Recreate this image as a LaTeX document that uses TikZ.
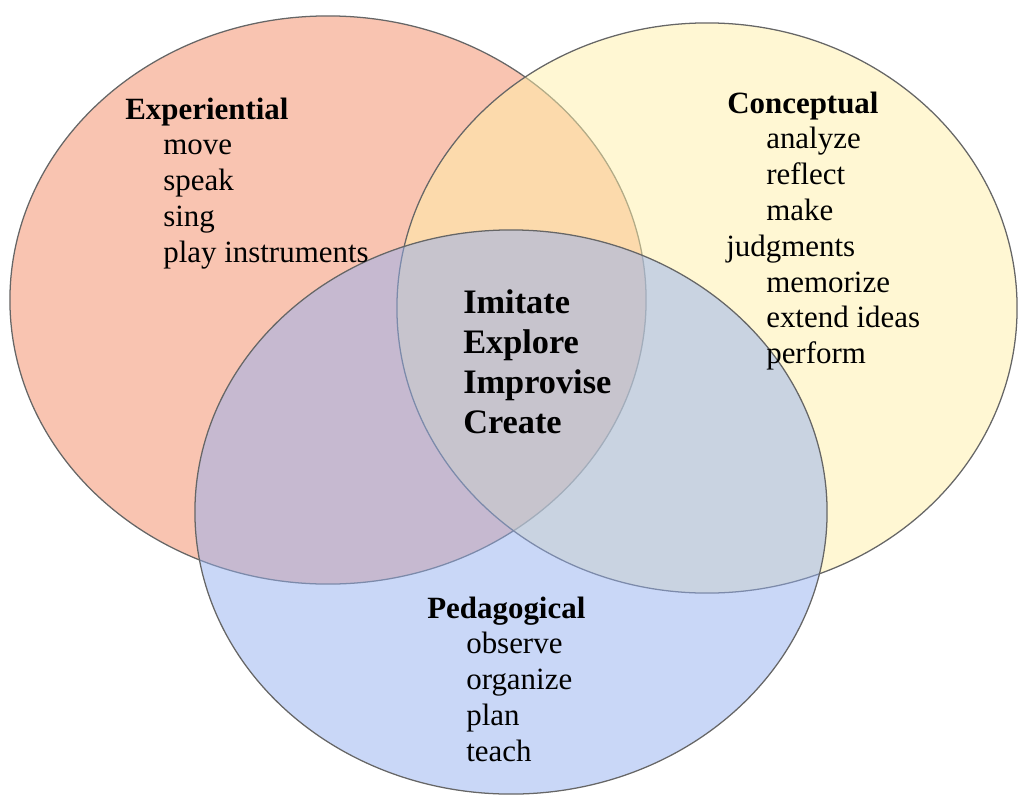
\documentclass[tikz,border=0pt]{standalone}
\usepackage{fontspec}
\setmainfont{Liberation Serif}
\definecolor{expcol}{RGB}{243,138,100}
\definecolor{concol}{RGB}{255,240,168}
\definecolor{pedcol}{RGB}{147,175,239}
\begin{document}
\begin{tikzpicture}[x=0.025cm, y=-0.025cm, line join=round,
  venn/.style={draw=black!60, line width=0.9pt, fill opacity=0.5},
  head/.style={anchor=base west, inner sep=0pt, font=\fontsize{22}{26}\selectfont\bfseries},
  item/.style={anchor=base west, inner sep=0pt, font=\fontsize{22}{26}\selectfont},
  core/.style={anchor=base west, inner sep=0pt, font=\fontsize{24.4}{28}\selectfont\bfseries}]
\def \dy{35.8}
\useasboundingbox (0,0) rectangle (1019,796);
% the three sets
\draw[venn, fill=expcol] (328,300) ellipse [x radius=7.95cm, y radius=7.1cm];
\draw[venn, fill=concol] (707,308) ellipse [x radius=7.75cm, y radius=7.125cm];
\draw[venn, fill=pedcol] (511,512) ellipse [x radius=7.9cm, y radius=7.05cm];
% Experiential
\node[head] (exp) at (125,119) {Experiential};
\foreach \t [count=\i] in {move,speak,sing,play instruments}{\node[item] (exp\i) at (163,{119+\dy*\i}) {\t};}
% Conceptual
\node[head] (con) at (727,113) {Conceptual};
\foreach \t/\x [count=\i] in {analyze/766,reflect/766,make/766,judgments/726,memorize/766,extend ideas/766,perform/766}{\node[item] (con\i) at (\x,{113+\dy*\i}) {\t};}
% Pedagogical
\node[head] (ped) at (427,618) {Pedagogical};
\foreach \t [count=\i] in {observe,organize,plan,teach}{\node[item] (ped\i) at (466,{618+\dy*\i}) {\t};}
% centre
\foreach \t [count=\i] in {Imitate,Explore,Improvise,Create}{\node[core] (core\i) at (463,{313+40*(\i-1)}) {\t};}
\end{tikzpicture}
\end{document}
